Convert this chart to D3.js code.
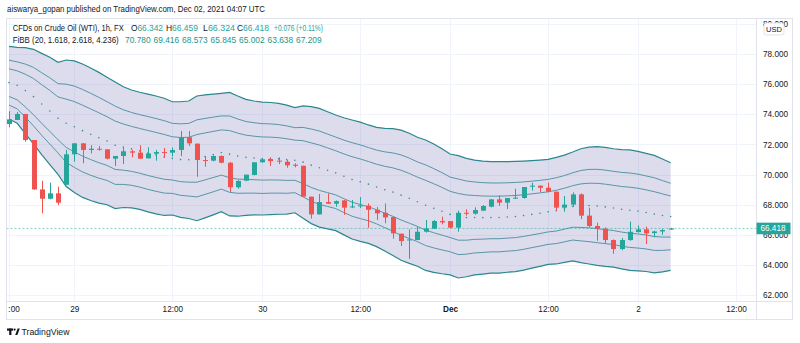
<!DOCTYPE html>
<html>
<head>
<meta charset="utf-8">
<script src="https://cdn.jsdelivr.net/npm/d3@7"></script>
<style>
  body { margin: 0; background: #fff; }
  svg { display: block; font-family: "Liberation Sans", Arial, sans-serif; }
</style>
</head>
<body>
<div class="vis-container"></div>
<script>
// hourly candles, CFDs on Crude Oil (WTI)
var candleOpen = [
  73.35, 73.62, 74.02, 72.29, 69.01, 68.39, 68.75, 69.32, 71.34, 72.07,
  71.63, 71.71, 71.67, 71.05, 71.23, 71.54, 71.45, 71.07, 71.38, 71.49,
  71.45, 71.63, 72.47, 72.05, 70.96, 70.92, 71.23, 70.78, 69.15, 69.59,
  69.97, 70.81, 71.03, 70.92, 70.85, 70.65, 70.58, 68.53, 67.35, 68.17,
  68.06, 68.28, 67.82, 67.88, 67.93, 67.66, 67.46, 67.18, 66.07, 65.63,
  65.65, 66.20, 66.40, 66.91, 66.91, 66.47, 67.46, 67.40, 67.60, 67.86,
  68.35, 68.13, 68.40, 68.44, 69.19, 69.26, 69.12, 68.86, 67.80, 68.00,
  68.68, 67.27, 66.58, 66.40, 65.65, 65.05, 65.65, 66.18, 66.36, 66.11,
  66.22, 66.342
];
var candleHigh = [
  74.21, 74.15, 74.02, 72.29, 69.59, 69.46, 69.19, 71.63, 72.07, 72.07,
  71.94, 71.89, 71.67, 71.23, 71.76, 71.63, 71.94, 71.80, 71.63, 71.76,
  71.80, 72.89, 72.89, 72.05, 71.23, 71.27, 71.27, 70.83, 69.63, 69.99,
  70.81, 71.05, 71.14, 71.14, 70.96, 70.74, 70.58, 68.53, 68.70, 68.75,
  68.28, 68.31, 68.31, 68.50, 68.08, 67.84, 68.08, 67.18, 66.07, 66.36,
  66.54, 66.98, 66.98, 67.20, 66.91, 67.60, 67.69, 67.82, 67.97, 68.35,
  68.62, 68.44, 69.06, 69.17, 69.46, 69.26, 69.46, 68.86, 68.57, 68.81,
  68.75, 67.80, 66.80, 66.49, 65.69, 65.78, 66.87, 66.62, 66.54, 66.27,
  66.40, 66.459
];
var candleLow = [
  73.13, 73.62, 72.18, 68.98, 67.42, 68.35, 67.97, 69.32, 70.85, 70.74,
  71.40, 71.58, 71.00, 70.56, 70.70, 71.14, 71.05, 71.07, 70.92, 71.11,
  71.20, 71.22, 71.89, 69.85, 70.52, 70.87, 70.74, 68.84, 69.05, 69.55,
  69.95, 70.79, 70.56, 70.69, 70.45, 70.47, 68.53, 67.07, 67.35, 68.04,
  67.86, 67.32, 67.77, 67.77, 66.46, 66.98, 66.76, 65.74, 65.25, 64.40,
  65.65, 66.14, 66.38, 66.69, 66.42, 66.20, 67.27, 67.33, 67.57, 67.82,
  67.91, 67.71, 68.39, 68.40, 68.93, 68.84, 68.81, 67.60, 67.53, 67.86,
  67.04, 66.49, 65.60, 65.43, 64.74, 64.97, 65.60, 66.14, 65.38, 65.83,
  66.00, 66.324
];
var candleClose = [
  73.66, 74.02, 72.29, 69.01, 68.39, 68.75, 68.13, 71.34, 72.07, 71.63,
  71.71, 71.67, 71.05, 71.23, 71.54, 71.45, 71.05, 71.40, 71.49, 71.45,
  71.63, 72.47, 72.07, 70.96, 70.94, 71.23, 70.78, 69.15, 69.57, 69.99,
  70.81, 71.01, 70.89, 70.89, 70.61, 70.58, 68.53, 67.35, 68.17, 68.06,
  68.23, 67.80, 67.88, 67.95, 67.66, 67.42, 67.15, 66.09, 65.58, 65.69,
  66.20, 66.42, 66.91, 66.82, 66.47, 67.46, 67.40, 67.64, 67.91, 68.35,
  68.13, 68.44, 68.46, 69.17, 69.26, 69.12, 68.86, 67.80, 68.00, 68.68,
  67.27, 66.58, 66.40, 65.65, 65.05, 65.65, 66.20, 66.36, 66.09, 66.22,
  66.31, 66.418
];

// FiBB (20, 1.618, 2.618, 4.236): basis dots and the outer upper band
var fibBasis = [
  76.10, 75.92, 75.57, 75.17, 74.68, 74.22, 73.73, 73.40, 73.17, 72.91,
  72.67, 72.44, 72.22, 71.94, 71.82, 71.70, 71.57, 71.43, 71.30, 71.17,
  71.07, 70.99, 70.98, 71.07, 71.20, 71.33, 71.46, 71.35, 71.22, 71.14,
  71.10, 71.06, 71.06, 71.04, 70.99, 70.95, 70.82, 70.62, 70.45, 70.28,
  70.11, 69.88, 69.67, 69.52, 69.36, 69.17, 68.99, 68.83, 68.63, 68.42,
  68.19, 67.96, 67.76, 67.56, 67.35, 67.19, 67.14, 67.15, 67.14, 67.15,
  67.15, 67.18, 67.21, 67.27, 67.35, 67.43, 67.52, 67.60, 67.73, 67.88,
  67.93, 67.94, 67.91, 67.85, 67.78, 67.69, 67.63, 67.57, 67.48, 67.37,
  67.28, 67.209
];
var fibUpper = [
  78.51, 78.44, 78.42, 78.31, 78.04, 77.78, 77.45, 77.60, 77.54, 77.34,
  77.07, 76.78, 76.45, 76.14, 75.83, 75.61, 75.46, 75.34, 75.21, 75.06,
  74.83, 74.83, 74.88, 75.21, 75.28, 75.34, 75.39, 75.45, 75.21, 74.99,
  74.88, 74.81, 74.78, 74.72, 74.61, 74.44, 74.55, 74.50, 74.39, 74.17,
  73.95, 73.77, 73.62, 73.48, 73.29, 73.13, 73.06, 73.04, 72.95, 72.74,
  72.47, 72.29, 72.02, 71.71, 71.36, 71.25, 71.07, 70.96, 70.89, 70.85,
  70.85, 70.85, 70.87, 70.89, 70.92, 70.96, 71.01, 71.14, 71.29, 71.49,
  71.71, 71.82, 71.85, 71.80, 71.71, 71.65, 71.63, 71.54, 71.40, 71.27,
  71.03, 70.780
];
var fibMults = [1.618, 2.618, 4.236];

var yTicks = [62, 64, 66, 68, 70, 72, 74, 76, 78, 80];
var xTickIndex = [0, 8, 20, 31, 43, 54, 66, 77, 89];
var xTickLabels = ["12:00", "29", "12:00", "30", "12:00", "Dec", "12:00", "2", "12:00"];
var lastPrice = 66.418;

var legendTitle = "CFDs on Crude Oil (WTI), 1h, FX";
var legendOhlc = [["O", "66.342"], ["H", "66.459"], ["L", "66.324"], ["C", "66.418"]];
var legendChange = "+0.076 (+0.11%)";
var fibTitle = "FiBB (20, 1.618, 2.618, 4.236)";
var fibLegendValues = ["70.780", "69.416", "68.573", "65.845", "65.002", "63.638", "67.209"];

var W = 800, H = 343;
var plotLeft = 6.5, plotRight = 756, plotTop = 18.5, plotBottom = 301, outerRight = 792.5, outerBottom = 319.5;
var dark = "#131722", up = "#26a69a", down = "#ef5350", grid = "#f0f3fa", border = "#e0e3eb";

var svg = d3.select(".vis-container").append("svg")
  .attr("width", W)
  .attr("height", H);

var x = d3.scaleLinear().domain([0, 89]).range([9, 736]);
var y = d3.scaleLinear().domain([62, 78]).range([295, 54]);

var n = candleClose.length;
var idx = d3.range(n);
var dev = idx.map(function(i) { return (fibUpper[i] - fibBasis[i]) / 4.236; });

var defs = svg.append("defs");
defs.append("clipPath").attr("id", "plot")
  .append("rect").attr("x", plotLeft).attr("y", plotTop)
  .attr("width", plotRight - plotLeft).attr("height", plotBottom - plotTop);
defs.append("clipPath").attr("id", "xlab")
  .append("rect").attr("x", 8).attr("y", plotBottom)
  .attr("width", plotRight - 8).attr("height", outerBottom - plotBottom);

// grid
var g = svg.append("g");
g.selectAll(".hgrid").data(yTicks).enter().append("line")
  .attr("x1", plotLeft).attr("x2", plotRight)
  .attr("y1", function(d) { return Math.round(y(d)) + 0.5; })
  .attr("y2", function(d) { return Math.round(y(d)) + 0.5; })
  .attr("stroke", grid);
g.selectAll(".vgrid").data(xTickIndex).enter().append("line")
  .attr("y1", plotTop).attr("y2", plotBottom)
  .attr("x1", function(d) { return Math.round(x(d)) + 0.5; })
  .attr("x2", function(d) { return Math.round(x(d)) + 0.5; })
  .attr("stroke", grid);

var plot = svg.append("g").attr("clip-path", "url(#plot)");

// band fill between outer bands
var area = d3.area()
  .x(function(i) { return x(i); })
  .y0(function(i) { return y(fibBasis[i] - 4.236 * dev[i]); })
  .y1(function(i) { return y(fibBasis[i] + 4.236 * dev[i]); });
plot.append("path").datum(idx)
  .attr("d", area)
  .attr("fill", "rgba(108,108,180,0.24)");

// band lines
fibMults.forEach(function(m) {
  [1, -1].forEach(function(s) {
    var line = d3.line()
      .x(function(i) { return x(i); })
      .y(function(i) { return y(fibBasis[i] + s * m * dev[i]); });
    plot.append("path").datum(idx)
      .attr("d", line)
      .attr("fill", "none")
      .attr("stroke", m === 4.236 ? "#2a878d" : "#5895a6")
      .attr("stroke-width", m === 4.236 ? 1.2 : 1);
  });
});

// basis as dots
plot.selectAll(".basis").data(idx).enter().append("circle")
  .attr("cx", function(i) { return x(i); })
  .attr("cy", function(i) { return y(fibBasis[i]); })
  .attr("r", 0.8)
  .attr("fill", "#3f8791");

// last price line
plot.append("line")
  .attr("x1", plotLeft).attr("x2", plotRight)
  .attr("y1", y(lastPrice)).attr("y2", y(lastPrice))
  .attr("stroke", up).attr("stroke-opacity", 0.55)
  .attr("stroke-dasharray", "2,2");

// candles
var candles = plot.selectAll(".candle").data(idx).enter().append("g");
candles.append("line")
  .attr("x1", function(i) { return Math.round(x(i)) + 0.5; })
  .attr("x2", function(i) { return Math.round(x(i)) + 0.5; })
  .attr("y1", function(i) { return y(candleHigh[i]); })
  .attr("y2", function(i) { return y(candleLow[i]); })
  .attr("stroke", function(i) { return candleClose[i] >= candleOpen[i] ? up : down; });
candles.append("rect")
  .attr("x", function(i) { return Math.round(x(i)) - 2; })
  .attr("width", 5)
  .attr("y", function(i) { return y(Math.max(candleOpen[i], candleClose[i])); })
  .attr("height", function(i) { return Math.max(1, Math.abs(y(candleOpen[i]) - y(candleClose[i]))); })
  .attr("fill", function(i) { return candleClose[i] >= candleOpen[i] ? up : down; });

// frame
svg.append("rect")
  .attr("x", plotLeft).attr("y", plotTop)
  .attr("width", outerRight - plotLeft).attr("height", outerBottom - plotTop)
  .attr("fill", "none").attr("stroke", border);
svg.append("line").attr("x1", plotRight + 0.5).attr("x2", plotRight + 0.5)
  .attr("y1", plotTop).attr("y2", outerBottom).attr("stroke", border);
svg.append("line").attr("x1", plotLeft).attr("x2", outerRight)
  .attr("y1", plotBottom + 0.5).attr("y2", plotBottom + 0.5).attr("stroke", border);

// y axis
var yAxis = d3.axisRight(y).tickValues(yTicks).tickFormat(d3.format(".3f")).tickSize(0).tickPadding(0);
var ya = svg.append("g").attr("transform", "translate(763,0)").call(yAxis);
ya.select(".domain").remove();
ya.selectAll("text").attr("font-size", 8.2).attr("fill", dark).attr("font-family", "Liberation Sans, Arial, sans-serif");

// USD badge
svg.append("rect").attr("x", 764).attr("y", 23).attr("width", 20).attr("height", 12).attr("rx", 2.5)
  .attr("fill", "#fff").attr("stroke", border);
svg.append("text").attr("x", 774).attr("y", 31.8).attr("text-anchor", "middle")
  .attr("font-size", 7.5).attr("fill", dark).text("USD");

// last price badge
svg.append("rect").attr("x", plotRight + 0.5).attr("y", y(lastPrice) - 5.8).attr("width", 34).attr("height", 11.6)
  .attr("fill", up);
svg.append("text").attr("x", 773).attr("y", y(lastPrice) + 3).attr("text-anchor", "middle")
  .attr("font-size", 8.2).attr("fill", "#fff").text(d3.format(".3f")(lastPrice));

// x axis (clip wrapper has no transform, so the clip rect stays in page coordinates)
var xAxis = d3.axisBottom(x).tickValues(xTickIndex)
  .tickFormat(function(d, i) { return xTickLabels[i]; })
  .tickSize(0).tickPadding(5);
var xa = svg.append("g").attr("clip-path", "url(#xlab)")
  .append("g").attr("transform", "translate(0," + plotBottom + ")").call(xAxis);
xa.select(".domain").remove();
xa.selectAll("text").attr("font-size", 8.2).attr("fill", dark).attr("font-family", "Liberation Sans, Arial, sans-serif")
  .attr("font-weight", function(d, i) { return xTickLabels[i] === "Dec" ? "bold" : null; });

// header
svg.append("text").attr("x", 7).attr("y", 12.3).attr("font-size", 8.6).attr("fill", dark)
  .attr("textLength", 258).attr("lengthAdjust", "spacingAndGlyphs")
  .text("aiswarya_gopan published on TradingView.com, Dec 02, 2021 04:07 UTC");

// legend row 1
svg.append("text").attr("x", 12.7).attr("y", 30.8).attr("font-size", 8.4).attr("fill", dark)
  .attr("textLength", 111).attr("lengthAdjust", "spacingAndGlyphs").text(legendTitle);
var ohlcX = [131, 166, 203, 237];
legendOhlc.forEach(function(p, i) {
  var t = svg.append("text").attr("x", ohlcX[i]).attr("y", 30.8).attr("font-size", 8.4)
    .attr("textLength", 32).attr("lengthAdjust", "spacingAndGlyphs");
  t.append("tspan").attr("fill", dark).text(p[0]);
  t.append("tspan").attr("fill", up).text(p[1]);
});
svg.append("text").attr("x", 274).attr("y", 30.8).attr("font-size", 8.4).attr("fill", up)
  .attr("textLength", 49).attr("lengthAdjust", "spacingAndGlyphs").text(legendChange);

// legend row 2
svg.append("text").attr("x", 12.7).attr("y", 43.2).attr("font-size", 8.4).attr("fill", dark)
  .attr("textLength", 106).attr("lengthAdjust", "spacingAndGlyphs").text(fibTitle);
svg.selectAll(".fibv").data(fibLegendValues).enter().append("text")
  .attr("x", function(d, i) { return 125 + i * 28.5; })
  .attr("y", 43.2).attr("font-size", 8.4).attr("fill", "#22978c")
  .text(function(d) { return d; });

// TradingView mark
var logo = svg.append("g").attr("fill", dark);
logo.append("rect").attr("x", 7).attr("y", 328.5).attr("width", 6).attr("height", 2.2);
logo.append("rect").attr("x", 9.2).attr("y", 328.5).attr("width", 2.2).attr("height", 6.5);
logo.append("circle").attr("cx", 14.6).attr("cy", 329.6).attr("r", 1.1);
logo.append("path").attr("d", "M15.2,335 L17.6,328.5 L19.8,328.5 L17.4,335 Z");
svg.append("text").attr("x", 21.5).attr("y", 335).attr("font-size", 8.6).attr("fill", dark)
  .attr("textLength", 48).attr("lengthAdjust", "spacingAndGlyphs").text("TradingView");
</script>
</body>
</html>
